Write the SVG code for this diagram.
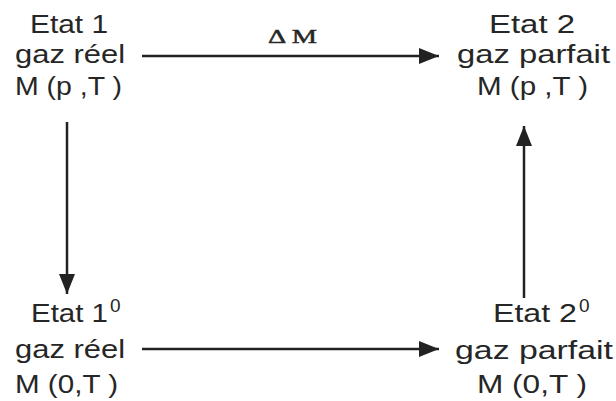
<svg xmlns="http://www.w3.org/2000/svg" width="616" height="401" viewBox="0 0 616 401">
  <style>
    .lbl { font-family: "Liberation Sans", Arial, sans-serif; font-size: 26px; fill: #262626; }
    .sup { font-family: "Liberation Sans", Arial, sans-serif; font-size: 19px; fill: #262626; }
    .op { font-family: "Liberation Serif", "Times New Roman", serif; font-size: 18px; fill: #262626; stroke: #262626; stroke-width: 0.4; }
    .edge { stroke: #222; stroke-width: 2.5; fill: none; }
  </style>
  <defs>
    <marker id="head" viewBox="0 0 20 16" refX="20" refY="8" markerWidth="20" markerHeight="16" markerUnits="userSpaceOnUse" orient="auto">
      <path d="M0,0 L20,8 L0,16 Z" fill="#222"/>
    </marker>
  </defs>
  <rect width="616" height="401" fill="#fff"/>

  <g id="connectors">
    <line class="edge" x1="142" y1="56" x2="439" y2="56" marker-end="url(#head)"/>
    <line class="edge" x1="142" y1="349" x2="439" y2="349" marker-end="url(#head)"/>
    <line class="edge" x1="67" y1="122" x2="67" y2="294" marker-end="url(#head)"/>
    <line class="edge" x1="524" y1="298" x2="524" y2="126" marker-end="url(#head)"/>
    <text class="op" x="268" y="43" textLength="49" lengthAdjust="spacingAndGlyphs">Δ M</text>
  </g>

  <g id="etat1">
    <text class="lbl" x="30" y="33" textLength="78" lengthAdjust="spacingAndGlyphs">Etat  1</text>
    <text class="lbl" x="15" y="63" textLength="110" lengthAdjust="spacingAndGlyphs">gaz  réel</text>
    <text class="lbl" x="15" y="95" textLength="107" lengthAdjust="spacingAndGlyphs">M (p ,T )</text>
  </g>

  <g id="etat2">
    <text class="lbl" x="489" y="33" textLength="86" lengthAdjust="spacingAndGlyphs">Etat  2</text>
    <text class="lbl" x="457" y="63" textLength="153" lengthAdjust="spacingAndGlyphs">gaz  parfait</text>
    <text class="lbl" x="477" y="95" textLength="111" lengthAdjust="spacingAndGlyphs">M (p ,T )</text>
  </g>

  <g id="etat1-0">
    <text class="lbl" x="31" y="322" textLength="77" lengthAdjust="spacingAndGlyphs">Etat  1</text>
    <text class="sup" x="110" y="312">0</text>
    <text class="lbl" x="15" y="358" textLength="110" lengthAdjust="spacingAndGlyphs">gaz  réel</text>
    <text class="lbl" x="15" y="393" textLength="103" lengthAdjust="spacingAndGlyphs">M (0,T )</text>
  </g>

  <g id="etat2-0">
    <text class="lbl" x="493" y="322" textLength="84" lengthAdjust="spacingAndGlyphs">Etat  2</text>
    <text class="sup" x="579" y="312">0</text>
    <text class="lbl" x="455" y="359" textLength="158" lengthAdjust="spacingAndGlyphs">gaz  parfait</text>
    <text class="lbl" x="477" y="393" textLength="110" lengthAdjust="spacingAndGlyphs">M (0,T )</text>
  </g>
</svg>
